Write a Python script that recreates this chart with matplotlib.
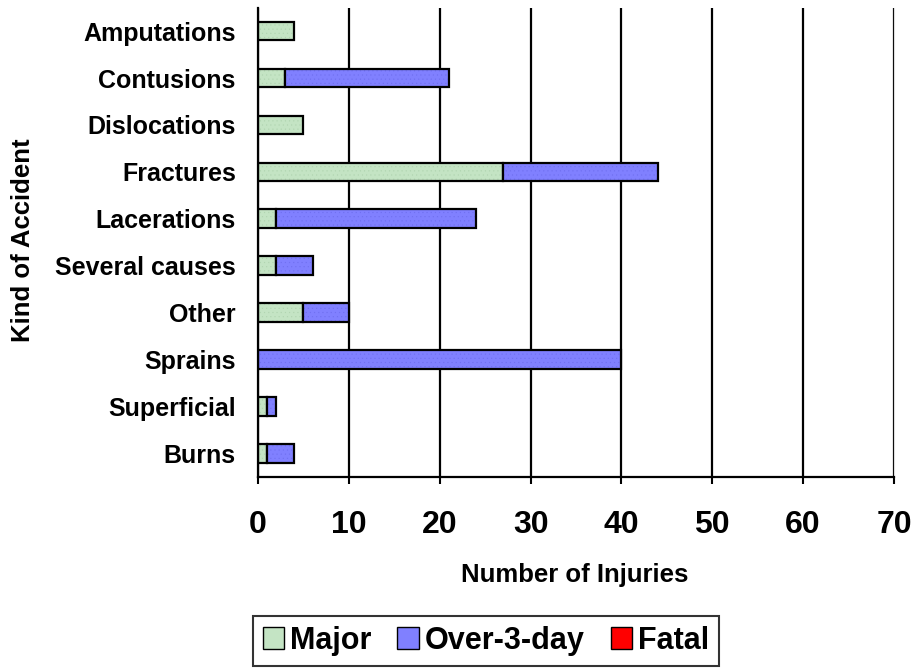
import matplotlib
matplotlib.use("Agg")
import matplotlib.pyplot as plt
from matplotlib.patches import Patch
from matplotlib.colors import to_rgba
import numpy as np

categories = ["Amputations", "Contusions", "Dislocations", "Fractures", "Lacerations",
              "Several causes", "Other", "Sprains", "Superficial", "Burns"]
major = [4, 3, 5, 27, 2, 2, 5, 0, 1, 1]
over3 = [0, 18, 0, 17, 22, 4, 5, 40, 1, 3]
fatal = [0, 0, 0, 0, 0, 0, 0, 0, 0, 0]
xticks = [0, 10, 20, 30, 40, 50, 60, 70]

plt.rcParams["font.family"] = ["Liberation Sans", "DejaVu Sans"]
plt.rcParams["hatch.linewidth"] = 0.3

fig = plt.figure(figsize=(9.16, 6.71), dpi=100)
ax = fig.add_axes([0.2817, 0.289, 0.6943, 0.6997])

y = np.arange(len(categories))
h = 0.4
green, blue, red = "#c4e4c4", "#8080ff", "#ff0000"
lw = 1.6

# stacked bars: Major, then Over-3-day, then Fatal on the end
b1 = ax.barh(y, major, height=h, color=green, edgecolor="black", linewidth=lw,
             hatch="....")
b2 = ax.barh(y, over3, left=major, height=h, color=blue, edgecolor="black",
             linewidth=lw, hatch="....")
left3 = np.array(major) + np.array(over3)
b3 = ax.barh(y, fatal, left=left3, height=h, color=red, edgecolor="black",
             linewidth=lw)
for bars, vals, hc in [(b1, major, "#b0d4b0"), (b2, over3, "#7070f0"),
                       (b3, fatal, red)]:
    for b, v in zip(bars, vals):
        b._hatch_color = to_rgba(hc)
        if v == 0:
            b.set_visible(False)

ax.set_ylim(len(categories) - 0.5, -0.5)
ax.set_xlim(0, 70)
ax.set_xticks(xticks)
ax.set_yticks(y)
ax.set_yticklabels(categories, fontsize=18, fontweight="bold")
ax.tick_params(axis="x", labelsize=23, length=5, width=1.5, pad=19)
for lbl in ax.get_xticklabels():
    lbl.set_fontweight("bold")
ax.tick_params(axis="y", length=0, pad=16)
ax.xaxis.grid(True, color="black", linewidth=1.6)
ax.set_axisbelow(True)
ax.spines["top"].set_visible(False)
ax.spines["right"].set_color("#dddddd")
ax.spines["left"].set_linewidth(1.6)
ax.spines["bottom"].set_linewidth(1.6)

ax.set_xlabel("Number of Injuries", fontsize=18.5, fontweight="bold")
ax.xaxis.set_label_coords(0.498, -0.209)
ax.xaxis.label.set_va("center")
fig.text(0.025, 0.642, "Kind of Accident", rotation=90, fontsize=18.5,
         fontweight="bold", ha="center", va="center")

handles = [Patch(facecolor=green, edgecolor="black"),
           Patch(facecolor=blue, edgecolor="black"),
           Patch(facecolor=red, edgecolor="black")]
leg = fig.legend(handles, ["Major", "Over-3-day", "Fatal"], loc="center",
                 bbox_to_anchor=(0.5306, 0.045), ncol=3, frameon=True, fancybox=False,
                 edgecolor="black", prop={"size": 22, "weight": "bold"},
                 handlelength=0.7, handleheight=0.7, handletextpad=0.2,
                 columnspacing=0.85, borderpad=0.32)
leg.get_frame().set_linewidth(1.5)

fig.savefig("out.png", dpi=100)
